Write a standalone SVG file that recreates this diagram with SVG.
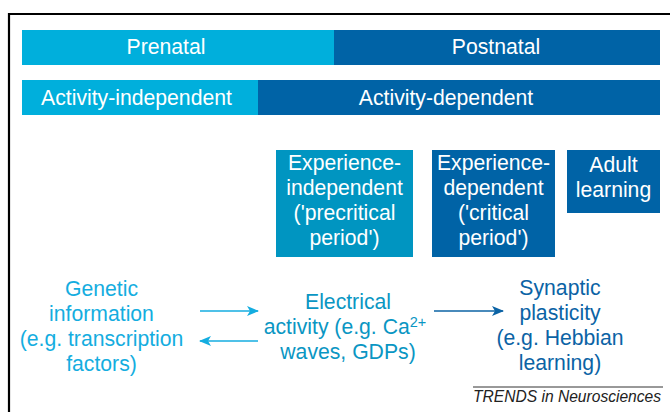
<svg xmlns="http://www.w3.org/2000/svg" width="670" height="412" viewBox="0 0 670 412">
  <style>
    text { font-family: "Liberation Sans", Arial, sans-serif; font-size: 21.2px; text-anchor: middle; }
    .w { fill: #ffffff; }
    .light { fill: #00afdc; }
    .mid { fill: #0095c1; }
    .dark { fill: #0063a6; }
    .tl { fill: #14ade0; }
    .tm { fill: #0a96c3; }
    .td { fill: #0b63a5; }
    .credit { font-size: 15.6px; font-style: italic; text-anchor: start; fill: #222; }
  </style>
  <defs>
    <marker id="headLight" markerWidth="12" markerHeight="10" refX="11" refY="5" orient="auto" markerUnits="userSpaceOnUse">
      <path d="M0,0 L12,5 L0,10 L3,5 Z" fill="#14ade0"/>
    </marker>
    <marker id="headDark" markerWidth="12" markerHeight="10" refX="11" refY="5" orient="auto" markerUnits="userSpaceOnUse">
      <path d="M0,0 L12,5 L0,10 L3,5 Z" fill="#0b63a5"/>
    </marker>
  </defs>

  <!-- frame -->
  <path d="M9,412 V14 H670" fill="none" stroke="#000" stroke-width="2.2"/>

  <!-- timeline bars -->
  <g id="prenatal">
    <rect class="light" x="22" y="30" width="312" height="35"/>
    <text class="w" x="166" y="54">Prenatal</text>
  </g>
  <g id="postnatal">
    <rect class="dark" x="334" y="30" width="326" height="35"/>
    <text class="w" x="496" y="54">Postnatal</text>
  </g>
  <g id="activity-independent">
    <rect class="light" x="22" y="80" width="236" height="35"/>
    <text class="w" x="136.5" y="105">Activity-independent</text>
  </g>
  <g id="activity-dependent">
    <rect class="dark" x="258" y="80" width="402" height="35"/>
    <text class="w" x="446" y="105">Activity-dependent</text>
  </g>

  <!-- developmental periods -->
  <g id="experience-independent">
    <rect class="mid" x="276" y="150" width="137" height="107"/>
    <text class="w" x="344.5" y="170">Experience-</text>
    <text class="w" x="344.5" y="195">independent</text>
    <text class="w" x="344.5" y="220">('precritical</text>
    <text class="w" x="344.5" y="245">period')</text>
  </g>
  <g id="experience-dependent">
    <rect class="dark" x="432" y="150" width="123" height="107"/>
    <text class="w" x="493.5" y="170">Experience-</text>
    <text class="w" x="493.5" y="195">dependent</text>
    <text class="w" x="493.5" y="220">('critical</text>
    <text class="w" x="493.5" y="245">period')</text>
  </g>
  <g id="adult-learning">
    <rect class="dark" x="567" y="150" width="93" height="63"/>
    <text class="w" x="613.5" y="172">Adult</text>
    <text class="w" x="613.5" y="197">learning</text>
  </g>

  <!-- mechanisms -->
  <g id="genetic-information">
    <text class="tl" x="101.5" y="296">Genetic</text>
    <text class="tl" x="101.5" y="321">information</text>
    <text class="tl" x="101.5" y="346">(e.g. transcription</text>
    <text class="tl" x="101.5" y="371">factors)</text>
  </g>
  <g id="electrical-activity">
    <text class="tm" x="348" y="309">Electrical</text>
    <text class="tm" x="345" y="334">activity (e.g. Ca<tspan font-size="14.5" dy="-7">2+</tspan></text>
    <text class="tm" x="348" y="359">waves, GDPs)</text>
  </g>
  <g id="synaptic-plasticity">
    <text class="td" x="560" y="295">Synaptic</text>
    <text class="td" x="560" y="320">plasticity</text>
    <text class="td" x="560" y="345">(e.g. Hebbian</text>
    <text class="td" x="560" y="370">learning)</text>
  </g>

  <!-- connectors -->
  <g id="connectors" fill="none" stroke-width="1.6">
    <line x1="200" y1="311" x2="258" y2="311" stroke="#14ade0" marker-end="url(#headLight)"/>
    <line x1="258" y1="341" x2="200" y2="341" stroke="#14ade0" marker-end="url(#headLight)"/>
    <line x1="434" y1="311" x2="503" y2="311" stroke="#0b63a5" marker-end="url(#headDark)"/>
  </g>

  <!-- credit line -->
  <g id="credit">
    <line x1="473" y1="387" x2="663" y2="387" stroke="#333" stroke-width="1"/>
    <text class="credit" x="473" y="402">TRENDS in Neurosciences</text>
  </g>
</svg>
